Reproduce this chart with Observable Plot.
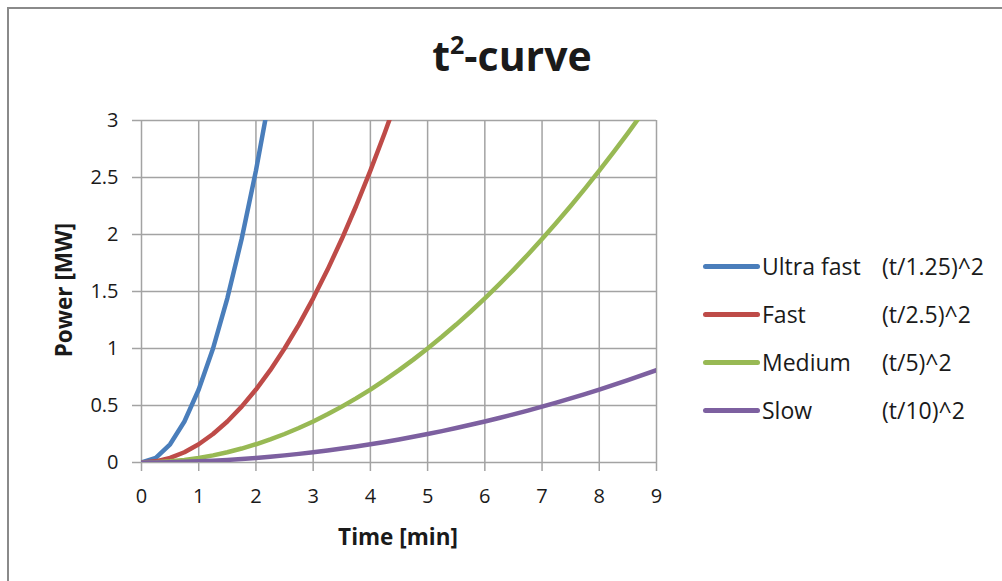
<!DOCTYPE html>
<html>
<head>
<meta charset="utf-8">
<script src="https://cdn.jsdelivr.net/npm/d3@7"></script>
<script src="https://cdn.jsdelivr.net/npm/@observablehq/plot@0.6"></script>
<style>
  html, body { margin: 0; padding: 0; background: #fff; }
  #chart { position: relative; width: 1002px; height: 581px; overflow: hidden; font-family: "Open Sans", sans-serif; color: #1a1a1a; }
  #chart svg { position: absolute; left: 0; top: 0; }
  .frame { position: absolute; left: 7px; top: 7px; width: 1000px; height: 580px; border-left: 2px solid #8a8a8a; border-top: 2px solid #8a8a8a; box-sizing: border-box; }
  .title { position: absolute; left: 362px; width: 300px; top: 31px; text-align: center; font-weight: bold; font-size: 41px; line-height: 48px; }
  .title sup { font-size: 25px; vertical-align: 17px; line-height: 0; }
  .xlabel { position: absolute; left: 298px; width: 200px; top: 521px; text-align: center; font-weight: bold; font-size: 22.5px; line-height: 32px; }
  .ylabel { position: absolute; left: 64px; top: 290px; transform: translate(-50%, -50%) rotate(-90deg); white-space: nowrap; font-weight: bold; font-size: 22.5px; line-height: 32px; }
  .legend { position: absolute; left: 703px; top: 247px; }
  .legend .row { position: relative; height: 48px; }
  .legend .swatch { position: absolute; left: 0; top: 17px; width: 57px; height: 5px; border-radius: 3px; }
  .legend .name { position: absolute; left: 59px; top: 1px; font-size: 23px; line-height: 36px; white-space: nowrap; }
  .legend .formula { position: absolute; left: 179px; top: 1px; font-size: 23px; line-height: 36px; white-space: nowrap; }
</style>
</head>
<body>
<div id="chart"></div>
<script>
// Sample times in minutes (every 15 s)
const minutes = [0, 0.25, 0.5, 0.75, 1, 1.25, 1.5, 1.75, 2, 2.25, 2.5, 2.75, 3, 3.25, 3.5, 3.75, 4, 4.25, 4.5,
  4.75, 5, 5.25, 5.5, 5.75, 6, 6.25, 6.5, 6.75, 7, 7.25, 7.5, 7.75, 8, 8.25, 8.5, 8.75, 9];

// Heat release rate in MW for each growth class, one value per sample time
const ultraFast = [0, 0.04, 0.16, 0.36, 0.64, 1.0, 1.44, 1.96, 2.56, 3.24];
const fast = [0, 0.01, 0.04, 0.09, 0.16, 0.25, 0.36, 0.49, 0.64, 0.81, 1.0, 1.21, 1.44, 1.69, 1.96, 2.25,
  2.56, 2.89, 3.24];
const medium = [0, 0.0025, 0.01, 0.0225, 0.04, 0.0625, 0.09, 0.1225, 0.16, 0.2025, 0.25, 0.3025, 0.36,
  0.4225, 0.49, 0.5625, 0.64, 0.7225, 0.81, 0.9025, 1.0, 1.1025, 1.21, 1.3225, 1.44, 1.5625, 1.69, 1.8225,
  1.96, 2.1025, 2.25, 2.4025, 2.56, 2.7225, 2.89, 3.0625];
const slow = [0, 0.0006, 0.0025, 0.0056, 0.01, 0.0156, 0.0225, 0.0306, 0.04, 0.0506, 0.0625, 0.0756, 0.09,
  0.1056, 0.1225, 0.1406, 0.16, 0.1806, 0.2025, 0.2256, 0.25, 0.2756, 0.3025, 0.3306, 0.36, 0.3906, 0.4225,
  0.4556, 0.49, 0.5256, 0.5625, 0.6006, 0.64, 0.6806, 0.7225, 0.7656, 0.81];

const seriesNames = ["Ultra fast", "Fast", "Medium", "Slow"];
const seriesFormulas = ["(t/1.25)^2", "(t/2.5)^2", "(t/5)^2", "(t/10)^2"];
const seriesColors = ["#4a7ebb", "#be4b48", "#98b954", "#7d60a0"];

const xTicks = [0, 1, 2, 3, 4, 5, 6, 7, 8, 9];
const yTicks = [0, 0.5, 1, 1.5, 2, 2.5, 3];
const yTickLabels = ["0", "0.5", "1", "1.5", "2", "2.5", "3"];

const seriesValues = [ultraFast, fast, medium, slow];
const rows = seriesNames.flatMap((name, i) =>
  seriesValues[i].map((p, j) => ({series: name, t: minutes[j], p}))
);

const gridStyle = {stroke: "#a3a3a3", strokeOpacity: 1, strokeWidth: 1.5};

const plot = Plot.plot({
  width: 1002,
  height: 581,
  marginLeft: 141,
  marginRight: 346,
  marginTop: 120,
  marginBottom: 119,
  style: {fontFamily: "'Open Sans', sans-serif", fontSize: "20px", color: "#1a1a1a", background: "transparent"},
  x: {domain: [0, 9]},
  y: {domain: [0, 3]},
  color: {domain: seriesNames, range: seriesColors},
  marks: [
    Plot.gridX(xTicks, gridStyle),
    Plot.gridY(yTicks, gridStyle),
    Plot.axisX(xTicks, {...gridStyle, tickSize: 9, tickPadding: 17, label: null, fill: "#1a1a1a"}),
    Plot.axisY(yTicks, {...gridStyle, tickSize: 9, tickPadding: 14, label: null, fill: "#1a1a1a",
      tickFormat: (d) => yTickLabels[yTicks.indexOf(d)]}),
    Plot.line(rows, {x: "t", y: "p", z: "series", stroke: "series", strokeWidth: 4.5,
      strokeLinejoin: "round", strokeLinecap: "round", clip: true})
  ]
});

const chart = document.getElementById("chart");
chart.append(plot);

const frame = document.createElement("div");
frame.className = "frame";
chart.append(frame);

const title = document.createElement("div");
title.className = "title";
title.innerHTML = "t<sup>2</sup>-curve";
chart.append(title);

const xLabel = document.createElement("div");
xLabel.className = "xlabel";
xLabel.textContent = "Time [min]";
chart.append(xLabel);

const yLabel = document.createElement("div");
yLabel.className = "ylabel";
yLabel.textContent = "Power [MW]";
chart.append(yLabel);

const legend = document.createElement("div");
legend.className = "legend";
seriesNames.forEach((name, i) => {
  const row = document.createElement("div");
  row.className = "row";
  const sw = document.createElement("div");
  sw.className = "swatch";
  sw.style.background = seriesColors[i];
  const nm = document.createElement("span");
  nm.className = "name";
  nm.textContent = name;
  const fm = document.createElement("span");
  fm.className = "formula";
  fm.textContent = seriesFormulas[i];
  row.append(sw, nm, fm);
  legend.append(row);
});
chart.append(legend);
</script>
</body>
</html>
